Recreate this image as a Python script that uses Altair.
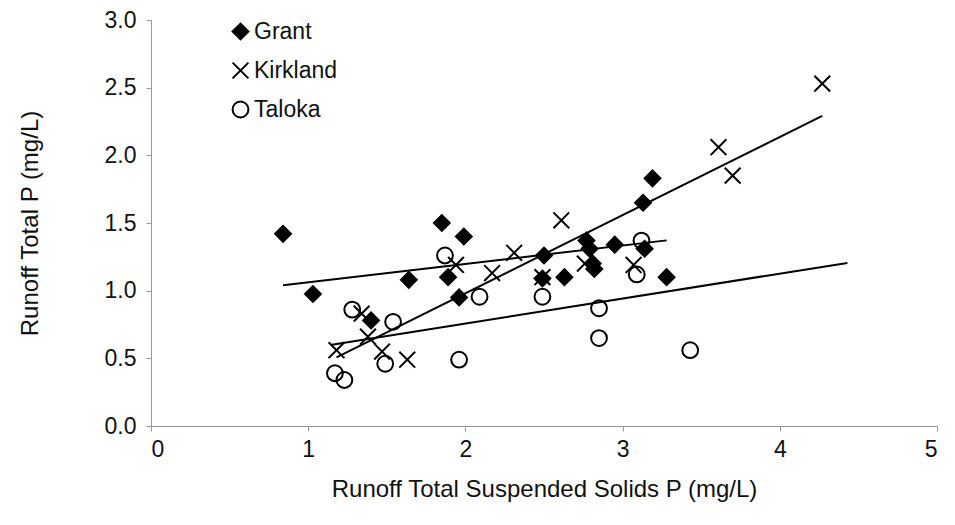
import altair as alt
import pandas as pd

sites = ["Grant", "Kirkland", "Taloka"]

grant_x = [0.84, 1.03, 1.40, 1.64, 1.85, 1.89, 1.96, 1.99, 2.49, 2.50, 2.63, 2.77, 2.79, 2.81, 2.82, 2.95, 3.13, 3.14, 3.19, 3.28]
grant_y = [1.42, 0.975, 0.78, 1.08, 1.50, 1.10, 0.95, 1.40, 1.09, 1.26, 1.10, 1.37, 1.31, 1.20, 1.16, 1.34, 1.65, 1.31, 1.83, 1.10]

kirk_x = [1.18, 1.34, 1.38, 1.47, 1.63, 1.94, 2.17, 2.31, 2.49, 2.61, 2.76, 3.07, 3.61, 3.70, 4.27]
kirk_y = [0.56, 0.83, 0.66, 0.55, 0.49, 1.19, 1.13, 1.28, 1.10, 1.52, 1.20, 1.19, 2.06, 1.85, 2.53]

tal_x = [1.17, 1.23, 1.28, 1.49, 1.54, 1.87, 1.96, 2.09, 2.49, 2.85, 2.85, 3.09, 3.12, 3.43]
tal_y = [0.39, 0.34, 0.86, 0.46, 0.77, 1.26, 0.49, 0.955, 0.955, 0.87, 0.65, 1.12, 1.37, 0.56]

taloka_line_extent = [1.15, 4.43]

x_ticks = [0, 1, 2, 3, 4, 5]
y_ticks = [0.0, 0.5, 1.0, 1.5, 2.0, 2.5, 3.0]

rows = []
for s, xs, ys in [("Grant", grant_x, grant_y), ("Kirkland", kirk_x, kirk_y), ("Taloka", tal_x, tal_y)]:
    for a, b in zip(xs, ys):
        rows.append({"site": s, "tss": a, "tp": b})
df = pd.DataFrame(rows)

FONT = "Liberation Sans"
X_PATH = "M-1,-1L1,1M-1,1L1,-1"

x_scale = alt.Scale(domain=[0, 5], nice=False, zero=False)
y_scale = alt.Scale(domain=[0, 3], nice=False)

x_enc = alt.X("tss:Q", scale=x_scale,
              axis=alt.Axis(values=x_ticks, format="d", title="Runoff Total Suspended Solids P (mg/L)",
                            grid=False, titlePadding=16, labelPadding=7))
y_enc = alt.Y("tp:Q", scale=y_scale,
              axis=alt.Axis(values=y_ticks, format=".1f", title="Runoff Total P (mg/L)",
                            grid=False, titlePadding=62, labelPadding=10))

leg = alt.Legend(title=None, orient="none", legendX=78, legendY=0,
                 labelFontSize=23, labelFont=FONT, labelColor="#111",
                 symbolSize=250, symbolStrokeWidth=2, symbolStrokeColor="black",
                 labelOffset=2, rowPadding=14)

points = alt.Chart(df).mark_point(opacity=1, strokeWidth=2, size=250, color="black", filled=False).encode(
    x=x_enc,
    y=y_enc,
    shape=alt.Shape("site:N", scale=alt.Scale(domain=sites, range=["diamond", X_PATH, "circle"]), legend=leg),
    fill=alt.Fill("site:N", scale=alt.Scale(domain=sites, range=["black", "transparent", "transparent"]), legend=leg),
    stroke=alt.Stroke("site:N", scale=alt.Scale(domain=sites, range=["black", "black", "black"]), legend=leg),
)


def reg(site, extent=None):
    base = alt.Chart(df).transform_filter(alt.datum.site == site)
    if extent is not None:
        base = base.transform_regression("tss", "tp", extent=extent)
    else:
        base = base.transform_regression("tss", "tp")
    return base.mark_line(color="black", strokeWidth=2).encode(x="tss:Q", y="tp:Q")


chart = alt.layer(
    reg("Grant"), reg("Kirkland"), reg("Taloka", taloka_line_extent), points
).properties(
    width=786, height=406,
    autosize=alt.AutoSizeParams(type="none"),
    padding={"left": 151, "top": 20, "right": 18, "bottom": 99},
    background="white",
).configure_view(stroke=None).configure_axis(
    labelFont=FONT, titleFont=FONT, labelFontSize=23, titleFontSize=24,
    labelColor="#111", titleColor="#111", titleFontWeight="normal",
    domainColor="#999", tickColor="#999", tickSize=5,
)

chart.save("out.html", embed_options={"renderer": "svg", "actions": False})
